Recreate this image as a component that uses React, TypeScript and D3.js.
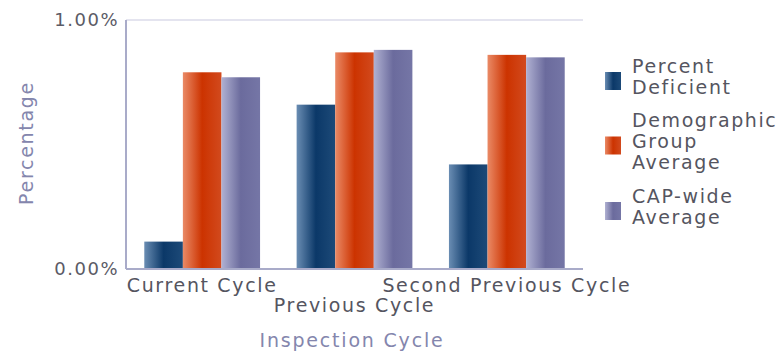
import React from "react";
import * as d3 from "d3";

const categories = ["Current Cycle", "Previous Cycle", "Second Previous Cycle"];
const seriesNames = ["Percent Deficient", "Demographic Group Average", "CAP-wide Average"];
const percentDeficient = [0.11, 0.66, 0.42];
const demographicAvg = [0.79, 0.87, 0.86];
const capWideAvg = [0.77, 0.88, 0.85];
const yTicks = [0, 1];
const legendLines = [["Percent", "Deficient"], ["Demographic", "Group", "Average"], ["CAP-wide", "Average"]];

const seriesValues = [percentDeficient, demographicAvg, capWideAvg];
const gradStops = [
  ["#6a8db3", "#0b3868", "#1d4a78"],
  ["#ea8a66", "#cc3300", "#d24a1e"],
  ["#b0b1d2", "#6b6b9d", "#7576a6"],
];

const W = 782, H = 355;
const M = { left: 126, right: 583, top: 20, bottom: 269 };
const font = "'DejaVu Sans', sans-serif";

export default function App() {
  const x0 = d3.scaleBand<string>().domain(categories).range([M.left, M.right]).paddingInner(0.24).paddingOuter(0.12);
  const x1 = d3.scaleBand<number>().domain([0, 1, 2]).range([0, x0.bandwidth()]);
  const y = d3.scaleLinear().domain([0, 1]).range([M.bottom, M.top]);
  const labelY = [292, 312, 292];
  const legendTops = [57, 111, 187];
  return (
    <svg width={W} height={H} style={{ position: "absolute", left: 0, top: 0, background: "#fff" }} fontFamily={font}>
      <defs>
        {gradStops.map((s, i) => (
          <linearGradient key={i} id={`g${i}`} x1="0" x2="1" y1="0" y2="0">
            <stop offset="0" stopColor={s[0]} />
            <stop offset="0.5" stopColor={s[1]} />
            <stop offset="1" stopColor={s[2]} />
          </linearGradient>
        ))}
      </defs>
      <line x1={M.left} x2={M.right} y1={y(1)} y2={y(1)} stroke="#e4e4ef" strokeWidth={2} />
      {categories.map((c, ci) =>
        seriesValues.map((vals, si) => (
          <rect key={`${ci}-${si}`} x={(x0(c) as number) + (x1(si) as number)} y={y(vals[ci])}
            width={x1.bandwidth()} height={y(0) - y(vals[ci])} fill={`url(#g${si})`} />
        ))
      )}
      <line x1={M.left} x2={M.left} y1={M.top} y2={M.bottom} stroke="#a9abc9" strokeWidth={2} />
      <line x1={M.left} x2={M.right} y1={M.bottom} y2={M.bottom} stroke="#a9abc9" strokeWidth={2} />
      {yTicks.map((t) => (
        <text key={t} x={119} y={y(t) + 6} textAnchor="end" fontSize={18} letterSpacing={1.5} fill="#5b5b66">
          {d3.format(".2%")(t / 100)}
        </text>
      ))}
      {categories.map((c, i) => (
        <text key={c} x={(x0(c) as number) + x0.bandwidth() / 2} y={labelY[i]} textAnchor="middle" fontSize={19} letterSpacing={1.65} fill="#55555f">
          {c}
        </text>
      ))}
      <text transform={`translate(33,143) rotate(-90)`} textAnchor="middle" fontSize={19} letterSpacing={1.7} fill="#8486ad">Percentage</text>
      <text x={352} y={347} textAnchor="middle" fontSize={19} letterSpacing={1.8} fill="#8486ad">Inspection Cycle</text>
      {legendLines.map((lines, i) => {
        const top = legendTops[i];
        const n = lines.length;
        const mid = top + 3 + (n * 21) / 2;
        return (
          <g key={i}>
            <rect x={605} y={mid - 9} width={16} height={18} fill={`url(#g${i})`} />
            {lines.map((l, j) => (
              <text key={j} x={632} y={top + 16 + j * 21} fontSize={19} letterSpacing={1.6} fill="#55555f">{l}</text>
            ))}
          </g>
        );
      })}
    </svg>
  );
}
